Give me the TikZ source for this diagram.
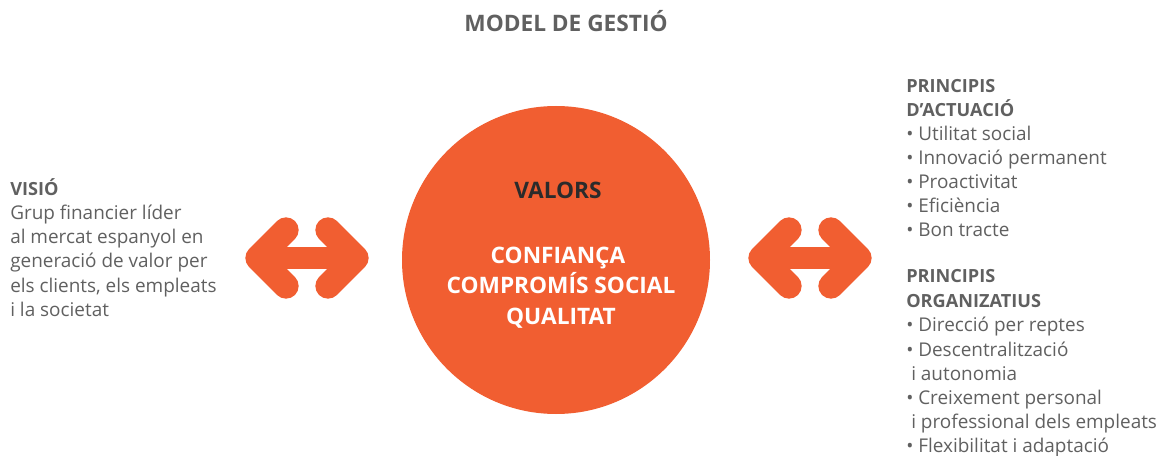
\documentclass[tikz,border=0pt]{standalone}
\usepackage{fontspec}
\setmainfont{Open Sans}
\definecolor{orng}{HTML}{F15E31}
\definecolor{txt}{HTML}{606060}
\definecolor{dark}{HTML}{2B2B2B}
\begin{document}
\begin{tikzpicture}[x=0.75pt,y=-0.75pt,
  body/.style={anchor=base west,inner sep=0pt,text=txt,font=\fontsize{14.2}{16}\selectfont},
  head/.style={body,font=\fontsize{13.6}{16}\selectfont\bfseries},
  inner/.style={anchor=base,inner sep=0pt,text=white,font=\fontsize{17}{19}\selectfont\bfseries},
  arm/.style={draw=orng,line width=19pt,line cap=round,line join=round},
  shaft/.style={draw=orng,line width=16.5pt,line cap=round}]
\useasboundingbox (0,0) rectangle (1165,456);
% title
\node[anchor=base,inner sep=0pt,text=txt,font=\fontsize{17}{19}\selectfont\bfseries] (title) at (566,32) {MODEL DE GESTIÓ};
% circle
\node[circle,fill=orng,minimum size=231pt,inner sep=0pt] (c) at (556,260) {};
\node[inner,text=dark] (valors) at (558,199) {VALORS};
\node[inner] (v1) at (558,264) {CONFIANÇA};
\node[inner] (v2) at (561,294) {COMPROMÍS SOCIAL};
\node[inner] (v3) at (561,325) {QUALITAT};
% arrows
\coordinate (a1l) at (258,258); \coordinate (a1r) at (356,258);
\coordinate (a1lu) at (286,230); \coordinate (a1ld) at (286,286);
\coordinate (a1ru) at (328,230); \coordinate (a1rd) at (328,286);
\draw[shaft] (a1l) -- (a1r);
\draw[arm] (a1lu) -- (a1l) -- (a1ld);
\draw[arm] (a1ru) -- (a1r) -- (a1rd);
\coordinate (a2l) at (761,258); \coordinate (a2r) at (859,258);
\coordinate (a2lu) at (789,230); \coordinate (a2ld) at (789,286);
\coordinate (a2ru) at (831,230); \coordinate (a2rd) at (831,286);
\draw[shaft] (a2l) -- (a2r);
\draw[arm] (a2lu) -- (a2l) -- (a2ld);
\draw[arm] (a2ru) -- (a2r) -- (a2rd);
% left block
\node[head] (vis) at (10,196) {VISIÓ};
\node[body] (vis1) at (10,220) {Grup financier líder};
\node[body] (vis2) at (10,244) {al mercat espanyol en};
\node[body] (vis3) at (10,268) {generació de valor per};
\node[body] (vis4) at (10,292) {els clients, els empleats};
\node[body] (vis5) at (10,316) {i la societat};
% right block 1
\node[head] (pa1) at (906,93) {PRINCIPIS};
\node[head] (pa2) at (906,117) {D’ACTUACIÓ};
\node[body] (pa3) at (906,141) {• Utilitat social};
\node[body] (pa4) at (906,165) {• Innovació permanent};
\node[body] (pa5) at (906,189) {• Proactivitat};
\node[body] (pa6) at (906,213) {• Eficiència};
\node[body] (pa7) at (906,237) {• Bon tracte};
% right block 2
\node[head] (po1) at (906,283) {PRINCIPIS};
\node[head] (po2) at (906,307) {ORGANIZATIUS};
\node[body] (po3) at (906,331) {• Direcció per reptes};
\node[body] (po4) at (906,356) {• Descentralització};
\node[body] (po5) at (911,380) {i autonomia};
\node[body] (po6) at (906,404) {• Creixement personal};
\node[body] (po7) at (911,428) {i professional dels empleats};
\node[body] (po8) at (906,452) {• Flexibilitat i adaptació};
\end{tikzpicture}
\end{document}
